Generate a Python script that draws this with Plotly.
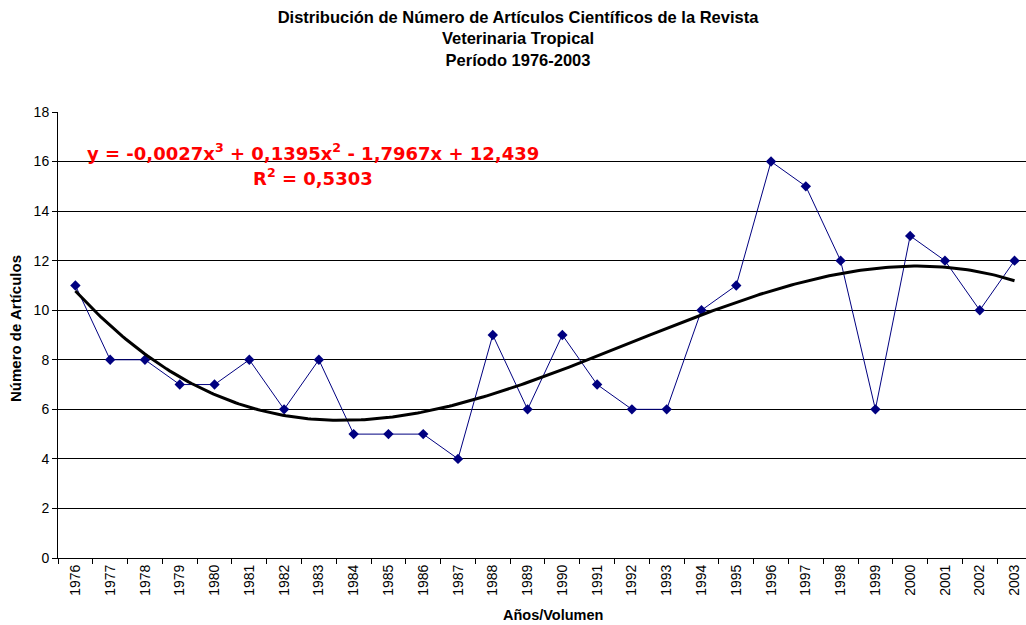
import numpy as np
import plotly.graph_objects as go

years = [str(y) for y in range(1976, 2004)]
articles = [11, 8, 8, 7, 7, 8, 6, 8, 5, 5, 5, 4, 9, 6, 9, 7, 6, 6, 10, 11, 16, 15, 12, 6, 13, 12, 10, 12]

# cubic trend (Excel polynomial trendline, x = 1..n)
xi = np.arange(1, len(articles) + 1)
coef = np.polyfit(xi, articles, 3)
xf = np.linspace(1, len(articles), 300)
yf = np.polyval(coef, xf)

W, H = 1026, 625
L, R, T, B = 58, 0, 112, 67
pw, ph = W - L - R, H - T - B

def px(x):
    return (x - L) / pw

def py(y):
    return (H - B - y) / ph

fig = go.Figure()
fig.add_trace(go.Scatter(
    x=xf - 1, y=yf, mode="lines", line=dict(color="black", width=3),
    hoverinfo="skip", showlegend=False, xaxis="x2"))
fig.add_trace(go.Scatter(
    x=years, y=articles, mode="lines+markers",
    line=dict(color="#000080", width=1),
    marker=dict(symbol="diamond", size=8, color="#000080"),
    showlegend=False))

fig.update_layout(
    width=W, height=H,
    margin=dict(l=L, r=R, t=T, b=B, autoexpand=False),
    paper_bgcolor="white", plot_bgcolor="white",
    font=dict(family="Liberation Sans, Arial", color="black", size=14),
    title=dict(
        text="<b>Distribución de Número de Artículos Científicos de la Revista<br>Veterinaria Tropical<br>Período 1976-2003</b>",
        x=518 / W, xanchor="center", yref="container", y=1 - 23 / H, yanchor="middle",
        font=dict(size=16.5, family="Liberation Sans, Arial")),
    xaxis=dict(
        type="category", range=[-0.5, 27.33], tickson="boundaries", automargin=False,
        tickangle=-90, ticks="outside", ticklen=5, tickcolor="black",
        showline=True, linecolor="black", linewidth=1, showgrid=False,
        tickfont=dict(size=14)),
    xaxis2=dict(range=[-0.5, 27.33], overlaying="x", visible=False),
    yaxis=dict(
        range=[0, 18], dtick=2, ticks="outside", ticklen=5, tickcolor="black",
        automargin=False,
        showline=True, linecolor="black", linewidth=1,
        showgrid=True, gridcolor="black", gridwidth=1, zeroline=False,
        tickfont=dict(size=14)),
    annotations=[
        dict(text="<b>y = -0,0027x<sup>3</sup> + 0,1395x<sup>2</sup> - 1,7967x + 12,439</b>",
             xref="paper", yref="paper", x=px(313), y=py(152),
             xanchor="center", yanchor="middle", showarrow=False,
             font=dict(family="DejaVu Sans", size=18, color="red")),
        dict(text="<b>R<sup>2</sup> = 0,5303</b>",
             xref="paper", yref="paper", x=px(313), y=py(177),
             xanchor="center", yanchor="middle", showarrow=False,
             font=dict(family="DejaVu Sans", size=18, color="red")),
        dict(text="<b>Años/Volumen</b>",
             xref="paper", yref="paper", x=px(553), y=py(615),
             xanchor="center", yanchor="middle", showarrow=False,
             font=dict(size=14.5)),
        dict(text="<b>Número de Artículos</b>", textangle=-90,
             xref="paper", yref="paper", x=px(15), y=py(329),
             xanchor="center", yanchor="middle", showarrow=False,
             font=dict(size=15)),
    ],
)

fig.write_html("out.html", config={"displayModeBar": False},
               post_script="document.body.style.margin='0px';")
